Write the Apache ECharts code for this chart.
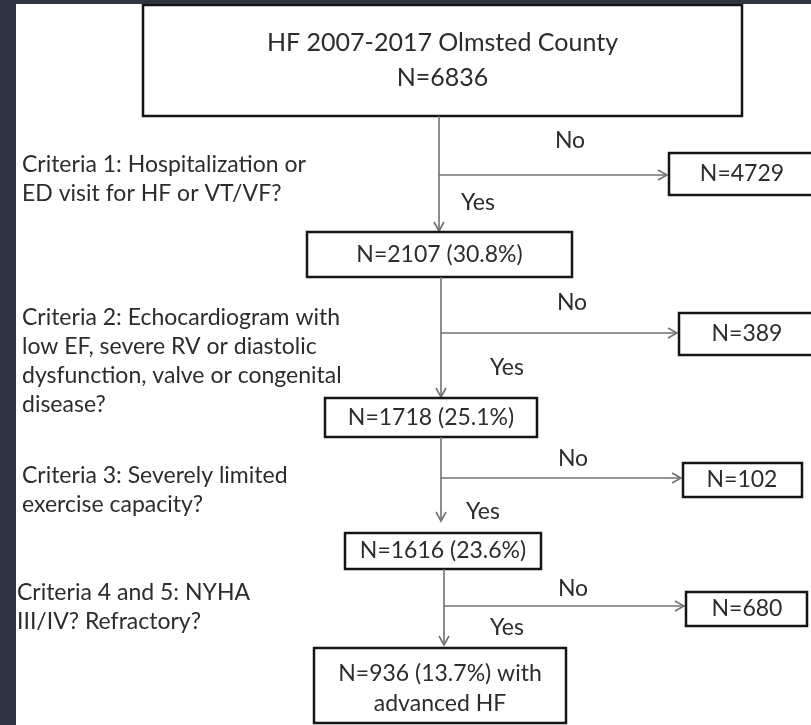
<!DOCTYPE html>
<html>
<head>
<meta charset="UTF-8">
<script src="https://cdn.jsdelivr.net/npm/echarts@6/dist/echarts.min.js"></script>
<style>
  html, body { margin: 0; padding: 0; background: #2e3440; }
  #main { width: 811px; height: 725px; }
</style>
</head>
<body>
<div id="main"></div>
<script>
// cohort numbers
const cohortTitle = 'HF 2007-2017 Olmsted County';
const totalN = 6836;
const remainingN = [2107, 1718, 1616, 936];
const excludedN = [4729, 389, 102, 680];
const criteriaText = [
    ['Criteria 1: Hospitalization or', 'ED visit for HF or VT/VF?'],
    ['Criteria 2: Echocardiogram with', 'low EF, severe RV or diastolic', 'dysfunction, valve or congenital', 'disease?'],
    ['Criteria 3: Severely limited', 'exercise capacity?'],
    ['Criteria 4 and 5: NYHA', 'III/IV? Refractory?']
];
const finalLabel = ['with', 'advanced HF'];

// drawing layout (in page pixels, mapped through the hidden axes)
const topBox = { x0: 143, x1: 742, y0: 5, y1: 116, lines: [43, 78] };
const steps = [
    { lineX: 439, branchY: 175, arrowX: 667, no: [570, 141], yes: [478, 203], tipY: 231,
      box: { x0: 307, x1: 572, y0: 232, y1: 277, lines: [255] },
      ex: { x0: 669, x1: 830, y0: 153, y1: 195, cx: 742 },
      text: { x: 22, y0: 165 } },
    { lineX: 441, branchY: 333, arrowX: 677, no: [572, 303], yes: [507, 368], tipY: 397,
      box: { x0: 325, x1: 537, y0: 398, y1: 437, lines: [418] },
      ex: { x0: 679, x1: 830, y0: 313, y1: 355, cx: 747 },
      text: { x: 22, y0: 318 } },
    { lineX: 441, branchY: 478, arrowX: 681, no: [573, 459], yes: [483, 512], tipY: 521,
      box: { x0: 345, x1: 541, y0: 533, y1: 569, lines: [551] },
      ex: { x0: 683, x1: 802, y0: 463, y1: 497, cx: 742 },
      text: { x: 22, y0: 476 } },
    { lineX: 444, branchY: 606, arrowX: 684, no: [573, 589], yes: [507, 628], tipY: 645,
      box: { x0: 314, x1: 566, y0: 648, y1: 723, lines: [674, 704] },
      ex: { x0: 686, x1: 807, y0: 592, y1: 626, cx: 747 },
      text: { x: 17, y0: 593 } }
];
const prevBottom = [topBox.y1, steps[0].box.y1, steps[1].box.y1, steps[2].box.y1];

const FONT = '23px Lato';
const TITLE_FONT = '25px Lato';
const TEXT = '#2c2c2c';
const LINE = '#727272';
const BORDER = '#141414';

function pctOf(n) { return (n / totalN * 100).toFixed(1) + '%'; }

function rectEl(api, b) {
    const p0 = api.coord([b.x0, b.y0]);
    const p1 = api.coord([b.x1, b.y1]);
    return { type: 'rect', shape: { x: p0[0], y: p0[1], width: p1[0] - p0[0], height: p1[1] - p0[1] },
        style: { fill: '#fff', stroke: BORDER, lineWidth: 2.5 } };
}
function textEl(api, str, x, y, align, font) {
    const p = api.coord([x, y]);
    return { type: 'text', style: { text: str, x: p[0], y: p[1], align: align || 'center', verticalAlign: 'middle',
        font: font || FONT, fill: TEXT } };
}
function lineEl(api, a, b) {
    const p = api.coord(a), q = api.coord(b);
    return { type: 'line', shape: { x1: p[0], y1: p[1], x2: q[0], y2: q[1] }, style: { stroke: LINE, lineWidth: 1.6 } };
}
function headEl(api, tip, dir) {
    const t = api.coord(tip);
    const pts = dir === 'down'
        ? [[t[0] - 5, t[1] - 9], t, [t[0] + 5, t[1] - 9]]
        : [[t[0] - 9, t[1] - 5], t, [t[0] - 9, t[1] + 5]];
    return { type: 'polyline', shape: { points: pts }, style: { stroke: LINE, lineWidth: 1.6, fill: null } };
}

function renderTop(params, api) {
    const cx = (topBox.x0 + topBox.x1) / 2;
    return { type: 'group', children: [
        rectEl(api, topBox),
        textEl(api, cohortTitle, cx, topBox.lines[0], 'center', TITLE_FONT),
        textEl(api, 'N=' + api.value(0), cx, topBox.lines[1], 'center', TITLE_FONT)
    ] };
}

function renderStep(params, api) {
    const i = api.value(0);
    const s = steps[i];
    const n = api.value(1);
    const ex = api.value(2);
    const cx = (s.box.x0 + s.box.x1) / 2;
    const kids = [];
    // criteria text on the left
    criteriaText[i].forEach(function (t, k) {
        kids.push(textEl(api, t, s.text.x, s.text.y0 + k * 29, 'left'));
    });
    // flow lines
    kids.push(lineEl(api, [s.lineX, prevBottom[i]], [s.lineX, s.tipY]));
    kids.push(headEl(api, [s.lineX, s.tipY], 'down'));
    kids.push(lineEl(api, [s.lineX, s.branchY], [s.arrowX, s.branchY]));
    kids.push(headEl(api, [s.arrowX, s.branchY], 'right'));
    kids.push(textEl(api, 'No', s.no[0], s.no[1]));
    kids.push(textEl(api, 'Yes', s.yes[0], s.yes[1]));
    // excluded box
    kids.push(rectEl(api, s.ex));
    kids.push(textEl(api, 'N=' + ex, s.ex.cx, (s.ex.y0 + s.ex.y1) / 2));
    // remaining box
    kids.push(rectEl(api, s.box));
    let label = 'N=' + n + ' (' + pctOf(n) + ')';
    if (i === steps.length - 1) {
        kids.push(textEl(api, label + ' ' + finalLabel[0], cx, s.box.lines[0]));
        kids.push(textEl(api, finalLabel[1], cx, s.box.lines[1]));
    } else {
        kids.push(textEl(api, label, cx, s.box.lines[0]));
    }
    return { type: 'group', children: kids };
}

const chart = echarts.init(document.getElementById('main'));
chart.setOption({
    backgroundColor: '#2e3440',
    animation: false,
    grid: { left: 16, top: 4, right: 0, bottom: 0, show: true, backgroundColor: '#ffffff', borderWidth: 0 },
    xAxis: { type: 'value', min: 16, max: 811, show: false },
    yAxis: { type: 'value', min: 4, max: 725, inverse: true, show: false },
    series: [
        { type: 'custom', renderItem: renderTop, data: [[totalN]], clip: true },
        { type: 'custom', renderItem: renderStep, clip: true,
          data: remainingN.map(function (n, i) { return [i, n, excludedN[i]]; }) }
    ]
});
</script>
</body>
</html>
